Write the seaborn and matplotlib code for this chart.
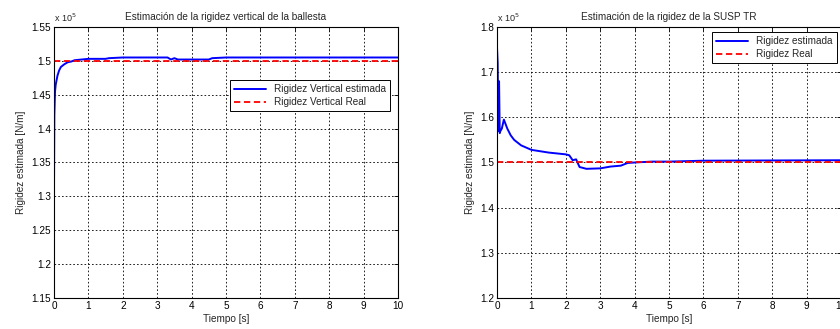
import numpy as np
import pandas as pd
import matplotlib
matplotlib.use("Agg")
import matplotlib.pyplot as plt
import seaborn as sns

# ---- data (values in units of 1e5 N/m) ----
t_left = [0, 0, 0.01, 0.03, 0.05, 0.1, 0.15, 0.2, 0.3, 0.4, 0.5, 0.6, 0.8, 1.0, 1.5, 1.6,
          2.0, 2.5, 3.0, 3.3, 3.4, 3.5, 3.6, 4.0, 4.5, 4.6, 5.0, 10]
k_left = [1.20, 1.31, 1.42, 1.455, 1.465, 1.478, 1.486, 1.491, 1.495, 1.498, 1.499, 1.501,
          1.502, 1.503, 1.503, 1.504, 1.505, 1.505, 1.505, 1.505, 1.502, 1.504, 1.502, 1.502,
          1.502, 1.504, 1.505, 1.505]
real_left = 1.5

t_right = [0, 0, 0.02, 0.04, 0.06, 0.08, 0.1, 0.14, 0.2, 0.25, 0.3, 0.4, 0.5, 0.7, 1.0, 1.5,
           2.0, 2.1, 2.2, 2.3, 2.4, 2.6, 3.0, 3.3, 3.6, 3.8, 4.0, 4.5, 5.0, 6.0, 10]
k_right = [1.2, 1.755, 1.72, 1.57, 1.68, 1.565, 1.57, 1.575, 1.595, 1.585, 1.575, 1.56, 1.55,
           1.538, 1.528, 1.522, 1.518, 1.516, 1.505, 1.507, 1.49, 1.486, 1.487, 1.491, 1.493,
           1.499, 1.500, 1.502, 1.502, 1.504, 1.505]
real_right = 1.5

title_left = "Estimación de la rigidez vertical de la ballesta"
title_right = "Estimación de la rigidez de la SUSP TR"
legend_left = ["Rigidez Vertical estimada", "Rigidez Vertical Real"]
legend_right = ["Rigidez estimada", "Rigidez Real"]
xlabel = "Tiempo [s]"
ylabel = "Rigidez estimada [N/m]"
xticks = list(range(0, 11))
yticks_left = [1.15, 1.2, 1.25, 1.3, 1.35, 1.4, 1.45, 1.5, 1.55]
yticks_right = [1.2, 1.3, 1.4, 1.5, 1.6, 1.7, 1.8]

sns.set_style("white")
plt.rcParams["font.family"] = ["Liberation Sans", "DejaVu Sans"]
plt.rcParams["font.size"] = 7

fig = plt.figure(figsize=(8.4, 3.29), dpi=100)
ax1 = fig.add_axes([54/840, 1-298/329, (398-54)/840, (298-27)/329])
ax2 = fig.add_axes([497/840, 1-298/329, (841-497)/840, (298-27)/329])


def draw(ax, t, k, real, ylim, yticks, labels, title, legend_loc):
    df = pd.DataFrame({"t": t, "k": k})
    sns.lineplot(data=df, x="t", y="k", ax=ax, estimator=None, sort=False,
                 color="#0000ff", linewidth=1.4, label=labels[0])
    dfr = pd.DataFrame({"t": [0, 10], "k": [real, real]})
    sns.lineplot(data=dfr, x="t", y="k", ax=ax, estimator=None, sort=False,
                 color="#ff0000", linewidth=1.3, linestyle=(0, (3.5, 2)), label=labels[1])
    ax.set_xlim(0, 10)
    ax.set_ylim(*ylim)
    ax.set_xticks(xticks)
    ax.set_yticks(yticks)
    ax.set_xticklabels([f"{v:g}" for v in xticks])
    ax.set_yticklabels([f"{v:g}" for v in yticks])
    ax.grid(True, color="black", linestyle=(0, (2, 2.5)), linewidth=0.6)
    ax.set_axisbelow(True)
    for s in ax.spines.values():
        s.set_color("black")
        s.set_linewidth(0.8)
    ax.tick_params(direction="in", length=3, width=0.6, colors="black", labelsize=7.2,
                   top=True, right=True, pad=2)
    ax.set_xlabel(xlabel, fontsize=7.2, labelpad=2)
    ax.set_ylabel(ylabel, fontsize=7.2, labelpad=4)
    ax.set_title(title, fontsize=7.2, pad=5)
    ax.text(0.0, 1.012, r"x 10$^5$", transform=ax.transAxes, fontsize=6.5, ha="left", va="bottom")
    leg = ax.legend(loc="upper left", bbox_to_anchor=legend_loc, fontsize=7.2, frameon=True,
                    fancybox=False, edgecolor="black", framealpha=1, borderpad=0.4,
                    handlelength=3.2, labelspacing=0.3, borderaxespad=0)
    leg.get_frame().set_linewidth(0.7)


draw(ax1, t_left, k_left, real_left, (1.15, 1.55), yticks_left, legend_left, title_left,
     ((230-54)/344, (298-80)/271))
draw(ax2, t_right, k_right, real_right, (1.2, 1.8), yticks_right, legend_right, title_right,
     ((712-497)/344, (298-32)/271))

fig.savefig("out.png", dpi=100)
